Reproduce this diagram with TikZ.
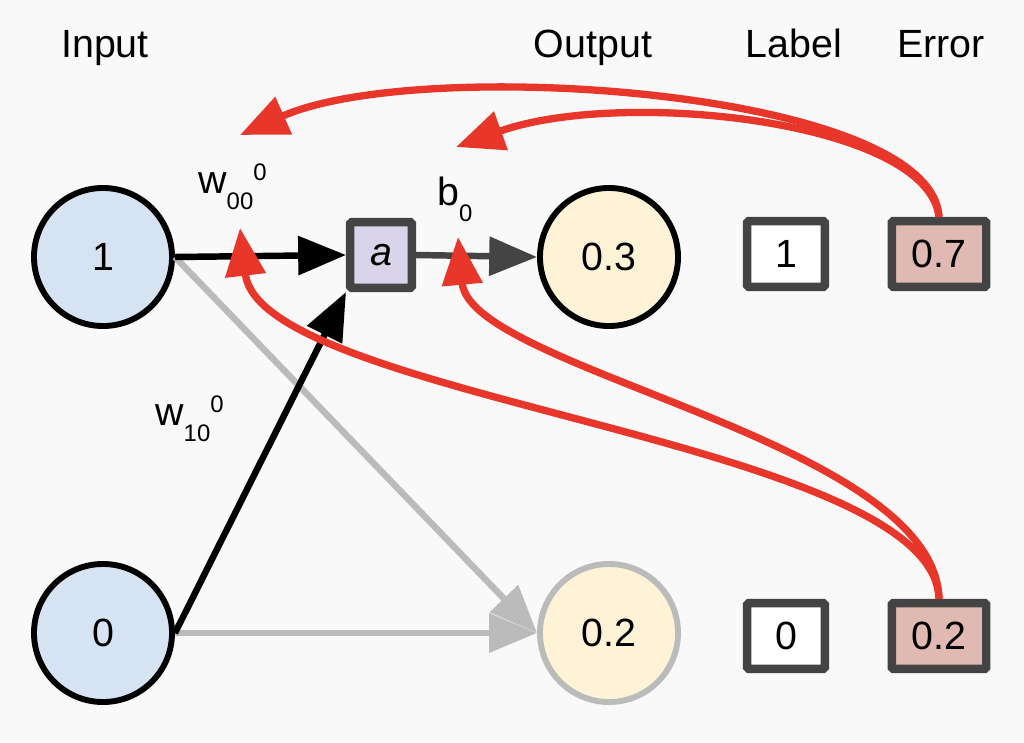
\documentclass[tikz,border=0pt]{standalone}
\usepackage{fontspec}
\setmainfont{Liberation Sans}
\usepackage{tikz}
\usetikzlibrary{arrows.meta}

\definecolor{bgcol}{HTML}{F9F9F9}
\definecolor{infill}{HTML}{D5E3F3}
\definecolor{outfill}{HTML}{FEF3D6}
\definecolor{actfill}{HTML}{D9D4E9}
\definecolor{errfill}{HTML}{E0BAB2}
\definecolor{boxline}{HTML}{444444}
\definecolor{faint}{HTML}{BBBBBB}
\definecolor{errred}{HTML}{E8372A}

\newcommand{\smallnum}[1]{{\fontsize{17}{17}\selectfont #1}}
\newcommand{\wname}[2]{w\raisebox{-12pt}{\smallnum{#1}}\raisebox{9pt}{\smallnum{#2}}}

\begin{document}
\begin{tikzpicture}[x=0.025cm,y=-0.025cm,
  font=\fontsize{28}{32}\selectfont,
  neuron/.style={circle,draw=black,line width=4.2pt,minimum size=3.45cm,inner sep=0pt},
  box/.style={rectangle,draw=boxline,line width=6pt,minimum height=1.64cm,inner sep=0pt,rounded corners=1pt},
  feed/.style={line width=4.6pt,-{Triangle[length=34pt,width=27pt]}},
  back/.style={draw=errred,line width=5.2pt,-{Triangle[length=34pt,width=28pt]}}]
  \fill[bgcol] (0,0) rectangle (1024,742);
  \useasboundingbox (0,0) rectangle (1024,742);
  % column titles
  \node[anchor=base] (tin) at (105,58) {Input};
  \node[anchor=base] (tout) at (593,58) {Output};
  \node[anchor=base] (tlab) at (794,58) {Label};
  \node[anchor=base] (terr) at (941,58) {Error};
  % units
  \node[neuron,fill=infill] (in1) at (103,257) {1};
  \node[neuron,fill=infill] (in0) at (103,633) {0};
  \node[box,fill=actfill,minimum width=1.54cm] (act) at (381,255) {\itshape a};
  \node[neuron,fill=outfill] (out0) at (609,257) {0.3};
  \node[neuron,draw=faint,fill=outfill] (out1) at (609,633) {0.2};
  \node[box,fill=white,minimum width=1.94cm] (lab0) at (786,254) {1};
  \node[box,fill=white,minimum width=1.94cm] (lab1) at (786,636) {0};
  \node[box,fill=errfill,minimum width=2.36cm] (err0) at (939,254) {0.7};
  \node[box,fill=errfill,minimum width=2.36cm] (err1) at (939,636) {0.2};
  % weight labels
  \node[anchor=base west,inner sep=0pt] (w00) at (198,193) {\wname{00}{0}};
  \node[anchor=base west,inner sep=0pt] (w10) at (155,425) {\wname{10}{0}};
  \node[anchor=base west,inner sep=0pt] (b0) at (437,205) {b\raisebox{-12pt}{\smallnum{0}}};
  % forward connections
  \draw[feed,faint] (in1.east) -- (out1.west);
  \draw[feed,faint] (in0.east) -- (out1.west);
  \draw[feed] (in1.east) -- (act.west);
  \draw[feed] (in0.east) -- (act.south west);
  \draw[feed,boxline] (act.east) -- (out0.west);
  % error feedback
  \coordinate (w00top) at (240,135);
  \coordinate (b0top) at (456,147);
  \coordinate (w00low) at (240,228);
  \coordinate (b0low) at (458,237);
  \draw[back] (err0.north) .. controls (932,90) and (420,55) .. (w00top);
  \draw[back] (err0.north) .. controls (928,120) and (620,88) .. (b0top);
  \draw[back] (err1.north) .. controls (935,440) and (260,400) .. (w00low);
  \draw[back] (err1.north) .. controls (935,440) and (470,370) .. (b0low);
\end{tikzpicture}
\end{document}
